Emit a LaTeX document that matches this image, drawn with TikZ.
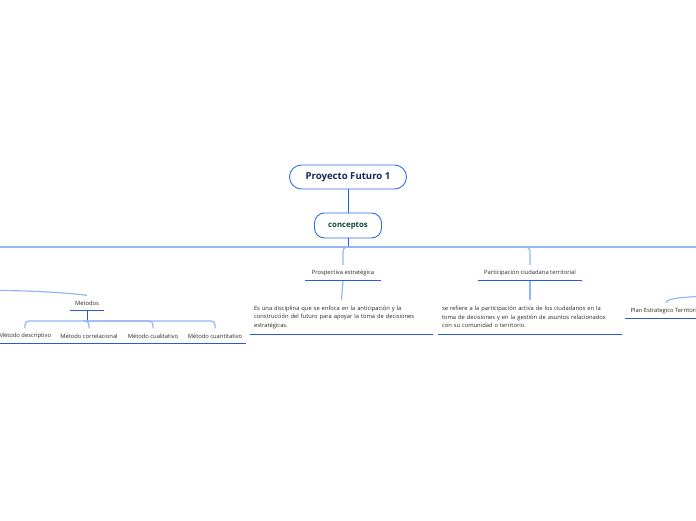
\documentclass[tikz,border=0pt]{standalone}
\usepackage{fontspec}
\setmainfont{Open Sans}
\usetikzlibrary{positioning}

\definecolor{boxblue}{RGB}{45,110,235}
\definecolor{ulblue}{RGB}{35,90,230}
\definecolor{linkblue}{RGB}{150,180,250}
\definecolor{roottext}{RGB}{20,40,90}
\definecolor{context}{RGB}{15,70,55}
\definecolor{leaftext}{RGB}{40,40,40}

\begin{document}
\begin{tikzpicture}[x=1pt,y=-1pt,
  topic/.style={draw=boxblue, line width=0.9pt, fill=white, inner sep=0pt},
  leaf/.style={font=\fontsize{5.8}{7}\selectfont, text=leaftext, inner sep=0pt, minimum height=15pt},
  para/.style={font=\fontsize{5.8}{8.5}\selectfont, text=leaftext, align=left, inner xsep=4pt, inner ysep=0pt, minimum height=34pt},
  uline/.style={draw=ulblue, line width=1.2pt},
  link/.style={draw=linkblue, line width=1.2pt, rounded corners=4pt},
  stem/.style={draw=ulblue, line width=1pt}]
  \useasboundingbox (0,0) rectangle (696,520);
  \clip (0,0) rectangle (696,520);

  % central topics
  \node[topic, rounded corners=12pt, minimum width=117pt, minimum height=24pt,
        font=\bfseries\fontsize{9.6}{11}\selectfont, text=roottext] (root) at (348,177) {Proyecto Futuro 1};
  \node[topic, rounded corners=10pt, minimum width=67pt, minimum height=25pt,
        font=\bfseries\fontsize{7.8}{9}\selectfont, text=context] (con) at (348,225.5) {conceptos};
  \draw[stem] (root) -- (con);

  % main branches
  \coordinate (hub) at (348,247);
  \coordinate (lft) at (-10,247);
  \coordinate (rgt) at (710,247);
  \node[leaf, minimum width=75pt] (pe) at (343,272.5) {Prospectiva estratégica};
  \node[leaf, minimum width=103pt] (pc) at (530,272.5) {Participación ciudadana territorial};

  \draw[stem] (con) -- (hub);
  \draw[link] (lft) -- (rgt);
  \draw[link] (hub) -| (pe.north);
  \draw[link] (hub) -| (pc.north);

  % descriptions
  \node[para, text width=175pt, anchor=north] (ped) at (341.5,300)
    {Es una disciplina que se enfoca en la anticipación y la\\
     construcción del futuro para apoyar la toma de decisiones\\
     estratégicas.};
  \node[para, text width=176pt, anchor=north] (pcd) at (530,300)
    {se refiere a la participación activa de los ciudadanos en la\\
     toma de decisiones y en la gestión de asuntos relacionados\\
     con su comunidad o territorio.};
  \draw[link] (pe.south) -- (ped.north);
  \draw[link] (pc.south) -- (pcd.north);

  % Metodos
  \node[leaf, minimum width=34pt] (met) at (87,303) {Metodos};
  \coordinate (mparent) at (-40,290);
  \draw[link] (met.north) .. controls (60,292) and (20,290) .. (mparent);
  \coordinate (mbar) at (87,321);
  \draw[stem] (met.south) -- (mbar);
  \node[leaf, minimum width=64pt] (m1) at (25,336) {Método descriptivo};
  \node[leaf, minimum width=64pt] (m2) at (89,336) {Método correlacional};
  \node[leaf, minimum width=64pt] (m3) at (153,336) {Método cualitativo};
  \node[leaf, minimum width=62pt] (m4) at (215,336) {Método cuantitativo};
  \foreach \m in {m1,m2,m3,m4}
    \draw[link] (mbar) -| (\m.north);

  % Plan Estrategico
  \node[leaf, minimum width=82pt] (pl) at (666,310.5) {Plan Estrategico Territorial};
  \coordinate (pparent) at (730,295);
  \draw[link] (pl.north) .. controls (667,298) and (680,297) .. (pparent);

  % underlines
  \foreach \n in {pe,pc,ped,pcd,met,m1,m2,m3,m4,pl}
    \draw[uline] (\n.south west) -- (\n.south east);
\end{tikzpicture}
\end{document}
